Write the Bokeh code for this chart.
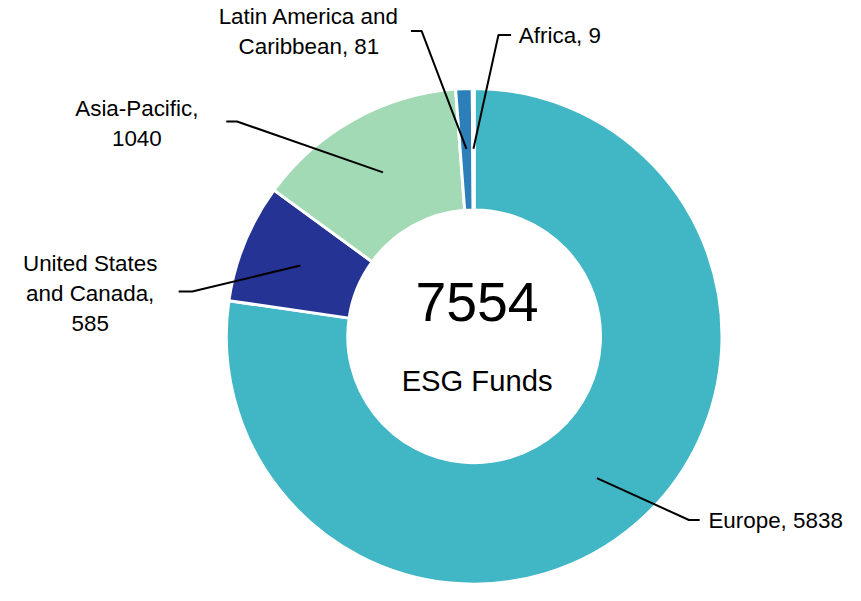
import math
from bokeh.plotting import figure
from bokeh.models import Range1d, ColumnDataSource
from bokeh.core.properties import value
from bokeh.embed import file_html
from bokeh.resources import INLINE

# ---- data ----
regions = ["Europe", "United States and Canada", "Asia-Pacific", "Latin America and Caribbean", "Africa"]
counts = [5838, 585, 1040, 81, 9]
colors = ["#41b6c4", "#253494", "#a1dab4", "#2c7fb8", "#ffffcc"]
label_lines = [
    ["Europe, 5838"],
    ["United States", "and Canada,", "585"],
    ["Asia-Pacific,", "1040"],
    ["Latin America and", "Caribbean, 81"],
    ["Africa, 9"],
]
total_label = "7554"
subtitle = "ESG Funds"

# ---- layout ----
W, H = 845, 585
S = 0.972          # overall scale of the drawing
BX, BY = 10, -1.5  # offsets


def X(rx):
    return S * rx + BX


def Y(ry):
    return H - (S * ry + BY)


def px(v):
    return "%.1fpx" % (v * S)


cx, cy = X(477), Y(347)
r_in, r_out = 130 * S, 255 * S
r_lead = 193 * S

# label placement: (elbow_x, elbow_y, end_x, end_y, text_x, first_line_y, align)
label_pos = [
    (698, 536, 709, 536, 718, 537, "left"),
    (187, 301, 173, 301, 82, 272, "center"),
    (233, 126, 222, 126, 130, 113, "center"),
    (423, 33, 412, 33, 307, 18, "center"),
    (502, 37, 515, 37, 523, 38, "left"),
]
line_gap = 31

p = figure(width=W, height=H, output_backend="svg", toolbar_location=None,
           x_range=Range1d(0, W), y_range=Range1d(0, H),
           min_border=0, background_fill_color="white", border_fill_color="white")
p.axis.visible = False
p.grid.visible = False
p.outline_line_color = None

total = sum(counts)
starts, ends, mids = [], [], []
a = math.pi / 2
for c in counts:
    da = 2 * math.pi * c / total
    starts.append(a - da)
    ends.append(a)
    mids.append(a - da / 2)
    a -= da

src = ColumnDataSource(dict(start=starts, end=ends, color=colors, region=regions, count=counts))
p.annular_wedge(x=cx, y=cy, inner_radius=r_in, outer_radius=r_out,
                start_angle="start", end_angle="end", fill_color="color",
                line_color="white", line_width=3, source=src)

font = value("Liberation Sans")
for i, lines in enumerate(label_lines):
    ex, ey, hx, hy, tx, ty, align = label_pos[i]
    sx0 = cx + r_lead * math.cos(mids[i])
    sy0 = cy + r_lead * math.sin(mids[i])
    p.line([sx0, X(ex), X(hx)], [sy0, Y(ey), Y(hy)],
           line_color="black", line_width=2)
    for k, t in enumerate(lines):
        p.text(x=[X(tx)], y=[Y(ty + k * line_gap)], text=[t], text_font=font,
               text_font_size=px(23), text_align=align, text_baseline="middle",
               text_color="black")

p.text(x=[X(480)], y=[Y(312)], text=[total_label], text_font=font, text_font_size=px(57),
       text_align="center", text_baseline="middle", text_color="black")
p.text(x=[X(480)], y=[Y(393)], text=[subtitle], text_font=font, text_font_size=px(30),
       text_align="center", text_baseline="middle", text_color="black")

open("out.html", "w").write(file_html(p, INLINE))
